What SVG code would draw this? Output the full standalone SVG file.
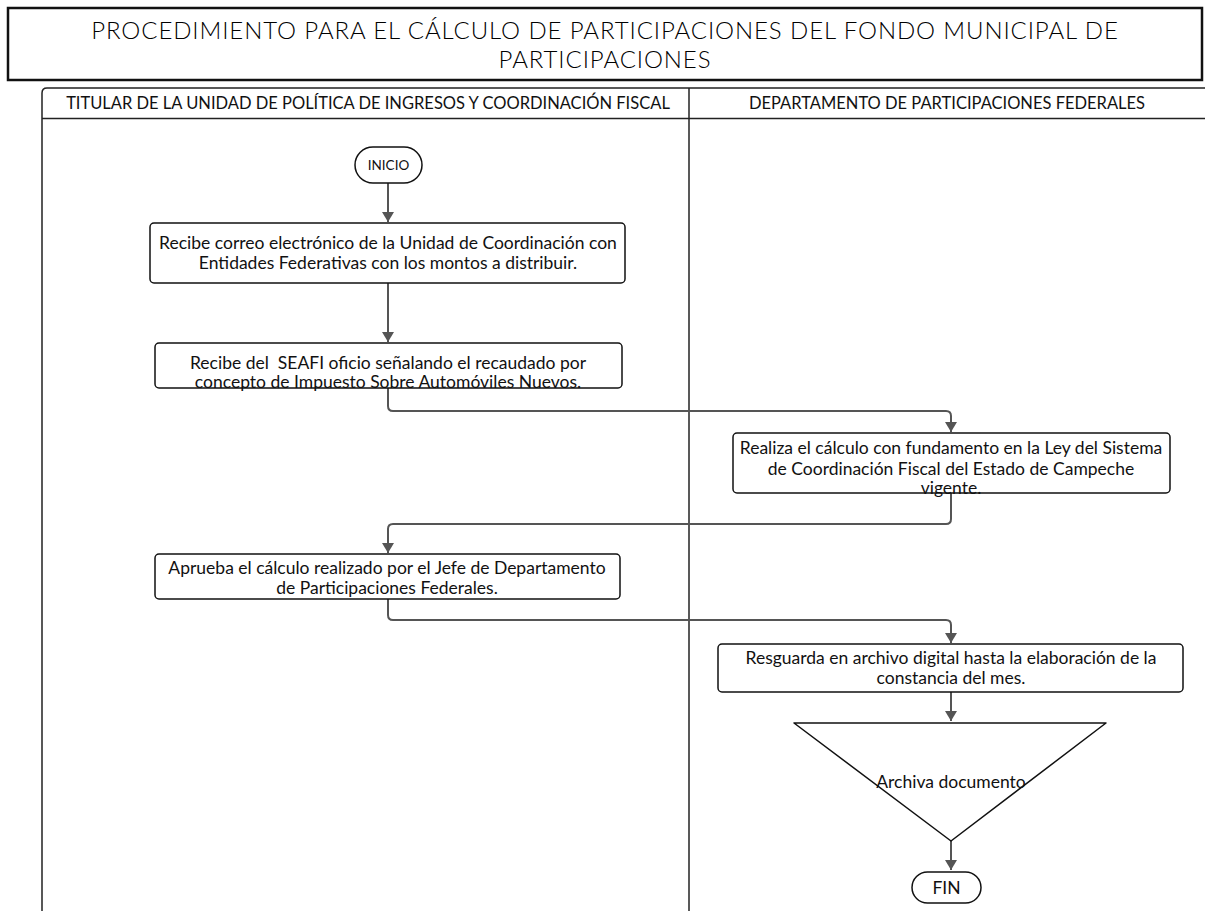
<svg xmlns="http://www.w3.org/2000/svg" width="1205" height="911" viewBox="0 0 1205 911">
<defs>
<marker id="ah" viewBox="0 0 10 12" refX="10" refY="6" markerWidth="10" markerHeight="12" markerUnits="userSpaceOnUse" orient="auto">
<path d="M0,0 L10,6 L0,12 Z" fill="#555"/>
</marker>
<style>
text{font-family:Lato,"Noto Sans","Liberation Sans",sans-serif;fill:#111;text-anchor:middle}
.title{font-size:24px;font-weight:300;fill:#000;letter-spacing:0.9px}
.lane{font-size:16.5px}
.t{font-size:17.5px}
.sm{font-size:13.5px}
.box{fill:#fff;stroke:#111;stroke-width:1.5}
.frame{fill:none;stroke:#222;stroke-width:1.5}
.conn{fill:none;stroke:#555;stroke-width:2;marker-end:url(#ah)}
</style>
</defs>
<rect width="1205" height="911" fill="#fff"/>
<g id="title">
<rect x="8" y="8" width="1194" height="72" fill="#fff" stroke="#111" stroke-width="2.5"/>
<text class="title" x="605" y="39">PROCEDIMIENTO PARA EL CÁLCULO DE PARTICIPACIONES DEL FONDO MUNICIPAL DE</text>
<text class="title" x="605" y="68">PARTICIPACIONES</text>
</g>
<g id="lanes">
<path class="frame" d="M42,911 L42,93 Q42,88 47,88 L1205,88"/>
<line class="frame" x1="42" y1="118.5" x2="1205" y2="118.5"/>
<line class="frame" x1="689" y1="88" x2="689" y2="911"/>
<text class="lane" x="368" y="109">TITULAR DE LA UNIDAD DE POLÍTICA DE INGRESOS Y COORDINACIÓN FISCAL</text>
<text class="lane" x="947" y="109">DEPARTAMENTO DE PARTICIPACIONES FEDERALES</text>
</g>
<g id="connectors">
<path class="conn" d="M388,183 L388,222"/>
<path class="conn" d="M388,283 L388,342"/>
<path class="conn" d="M388,388 L388,406 Q388,411 393,411 L946,411 Q951,411 951,416 L951,432"/>
<path class="conn" d="M951,493 L951,519 Q951,524 946,524 L393,524 Q388,524 388,529 L388,553"/>
<path class="conn" d="M388,599 L388,615 Q388,620 393,620 L946,620 Q951,620 951,625 L951,643"/>
<path class="conn" d="M951,692 L951,721"/>
<path class="conn" d="M951,841 L951,870"/>
</g>
<g id="inicio">
<rect class="box" x="355" y="147" width="67" height="36" rx="18"/>
<text class="sm" x="388.5" y="170">INICIO</text>
</g>
<g id="n1">
<rect class="box" x="150" y="223" width="475" height="60" rx="4"/>
<text class="t" x="388" y="249">Recibe correo electrónico de la Unidad de Coordinación con</text>
<text class="t" x="388" y="269">Entidades Federativas con los montos a distribuir.</text>
</g>
<g id="n2">
<rect class="box" x="155" y="343" width="467" height="45" rx="4"/>
<text class="t" x="388" y="369" xml:space="preserve">Recibe del  SEAFI oficio señalando el recaudado por</text>
<text class="t" x="388" y="388">concepto de Impuesto Sobre Automóviles Nuevos.</text>
</g>
<g id="n3">
<rect class="box" x="733" y="433" width="437" height="60" rx="4"/>
<text class="t" x="951" y="454">Realiza el cálculo con fundamento en la Ley del Sistema</text>
<text class="t" x="951" y="475">de Coordinación Fiscal del Estado de Campeche</text>
<text class="t" x="951" y="494">vigente.</text>
</g>
<g id="n4">
<rect class="box" x="155" y="554" width="465" height="45" rx="4"/>
<text class="t" x="387" y="574">Aprueba el cálculo realizado por el Jefe de Departamento</text>
<text class="t" x="387" y="594">de Participaciones Federales.</text>
</g>
<g id="n5">
<rect class="box" x="718" y="644" width="465" height="48" rx="4"/>
<text class="t" x="951" y="664">Resguarda en archivo digital hasta la elaboración de la</text>
<text class="t" x="951" y="684">constancia del mes.</text>
</g>
<g id="archiva">
<path d="M794,723 L1106,723 L951,841 Z" fill="#fff" stroke="#111" stroke-width="1.5" stroke-linejoin="round"/>
<text class="t" x="951" y="788">Archiva documento</text>
</g>
<g id="fin">
<rect class="box" x="912" y="872" width="69" height="31" rx="15.5"/>
<text class="t" x="946.5" y="894">FIN</text>
</g>
</svg>
